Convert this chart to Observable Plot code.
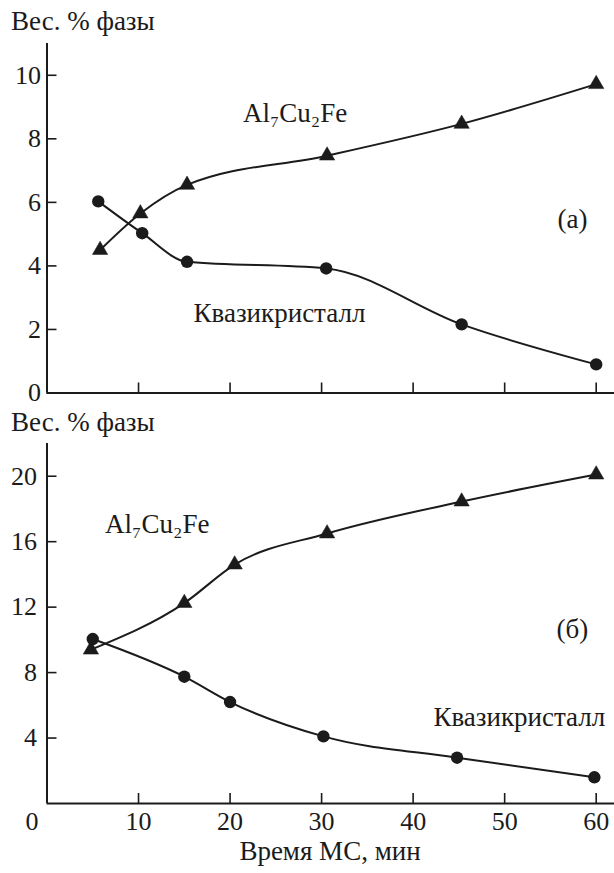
<!DOCTYPE html>
<html><head><meta charset="utf-8">
<script src="https://cdn.jsdelivr.net/npm/d3@7"></script>
<script src="https://cdn.jsdelivr.net/npm/@observablehq/plot@0.6"></script>
<style>
body{margin:0;background:#fff;}
#wrap{position:relative;width:614px;height:873px;font-family:"Liberation Serif","Times New Roman",Times,"Tinos","Noto Serif","DejaVu Serif","FreeSerif",serif;color:#1b1b1b;}
.p{position:absolute;left:0;}
.t{position:absolute;font-size:27px;line-height:27px;white-space:nowrap;}
</style></head><body>
<div id="wrap">
  <div id="p1" class="p" style="top:0"></div>
  <div id="p2" class="p" style="top:400px"></div>
  <div class="t" id="title1" style="left:11px;top:8px"></div>
  <div class="t" id="title2" style="left:11px;top:409px"></div>
  <div class="t" id="xlabel" style="left:0;width:660px;text-align:center;top:838px"></div>
</div>
<script>
// ---- data ----
const yTitle = "Вес. % фазы";
const xTitle = "Время МС, мин";
const seriesNames = ["Al₇Cu₂Fe", "Квазикристалл"];

// panel (а)
const aAlTime = [5.8, 10.2, 15.3, 30.6, 45.3, 60];
const aAlPct  = [4.5, 5.65, 6.55, 7.47, 8.47, 9.72];
const aQcTime = [5.6, 10.4, 15.3, 30.5, 45.3, 60];
const aQcPct  = [6.03, 5.03, 4.13, 3.92, 2.16, 0.9];
const aYTicks = [0, 2, 4, 6, 8, 10];
const aLabelText = ["Al₇Cu₂Fe", "Квазикристалл", "(а)"];
const aLabelX = [27.1, 25.4, 57.4];
const aLabelY = [8.8, 2.5, 5.45];

// panel (б)
const bAlTime = [4.8, 15, 20.5, 30.6, 45.3, 60];
const bAlPct  = [9.4, 12.25, 14.6, 16.5, 18.45, 20.1];
const bQcTime = [5, 15, 20, 30.2, 44.8, 59.8];
const bQcPct  = [10.05, 7.75, 6.2, 4.1, 2.8, 1.6];
const bYTicks = [4, 8, 12, 16, 20];
const bLabelText = ["Al₇Cu₂Fe", "(б)", "Квазикристалл"];
const bLabelX = [12.05, 57.4, 51.6];
const bLabelY = [17.06, 10.66, 5.28];

const xTicks = [10, 20, 30, 40, 50, 60];
const xZeroTick = [0];

// ---- drawing ----
const ink = "#1b1b1b";
const font = "'Liberation Serif', 'Times New Roman', Times, Tinos, 'Noto Serif', 'DejaVu Serif', FreeSerif, serif";
const fs = 26;

function panel({alT, alP, qcT, qcP, yDomain, yTicks, yPad, lt, lx, ly, showX, height, marginBottom}) {
  const al = alT.map((t, i) => ({t, p: alP[i]}));
  const qc = qcT.map((t, i) => ({t, p: qcP[i]}));
  const marks = [
    Plot.ruleX([0], {stroke: ink, strokeWidth: 2}),
    Plot.ruleY([0], {stroke: ink, strokeWidth: 2}),
    Plot.axisY({ticks: yTicks, tickSize: -10, tickFormat: () => "", label: null, stroke: ink, strokeWidth: 1.6}),
    Plot.axisY({ticks: yTicks, tickSize: 0, tickPadding: yPad, label: null, fontSize: fs, fill: ink}),
    Plot.axisX({ticks: xTicks, tickSize: -10, tickFormat: () => "", label: null, stroke: ink, strokeWidth: 1.6}),
    Plot.line(al, {x: "t", y: "p", curve: "monotone-x", stroke: ink, strokeWidth: 2}),
    Plot.line(qc, {x: "t", y: "p", curve: "monotone-x", stroke: ink, strokeWidth: 2}),
    Plot.dot(al, {x: "t", y: "p", symbol: "triangle", r: 5.7, fill: ink, stroke: ink, strokeWidth: 0.5}),
    Plot.dot(qc, {x: "t", y: "p", symbol: "circle", r: 6.2, fill: ink}),
    Plot.text(lt, {x: lx, y: ly, text: d => d, fontSize: 27, fill: ink})
  ];
  if (showX) {
    marks.push(Plot.axisX({ticks: xTicks, tickSize: 0, tickPadding: 8, label: null, fontSize: fs, fill: ink}));
    marks.push(Plot.axisX({ticks: xZeroTick, tickSize: 0, tickPadding: 8, dx: -15, label: null, fontSize: fs, fill: ink}));
  }
  return Plot.plot({
    width: 614,
    height,
    marginLeft: 46.5,
    marginRight: 0,
    marginTop: 43,
    marginBottom,
    x: {domain: [0, 62], label: null},
    y: {domain: yDomain, label: null},
    style: {fontFamily: font, fontSize: fs + "px", color: ink, background: "transparent", overflow: "visible"},
    marks
  });
}

document.getElementById("p1").append(panel({
  alT: aAlTime, alP: aAlPct, qcT: aQcTime, qcP: aQcPct,
  yDomain: [0, 11], yTicks: aYTicks, yPad: 6,
  lt: aLabelText, lx: aLabelX, ly: aLabelY,
  showX: false, height: 400, marginBottom: 7.5
}));
document.getElementById("p2").append(panel({
  alT: bAlTime, alP: bAlPct, qcT: bQcTime, qcP: bQcPct,
  yDomain: [0, 22], yTicks: bYTicks, yPad: 10,
  lt: bLabelText, lx: bLabelX, ly: bLabelY,
  showX: true, height: 473, marginBottom: 70
}));
document.getElementById("title1").textContent = yTitle;
document.getElementById("title2").textContent = yTitle;
document.getElementById("xlabel").textContent = xTitle;
</script>
</body></html>
